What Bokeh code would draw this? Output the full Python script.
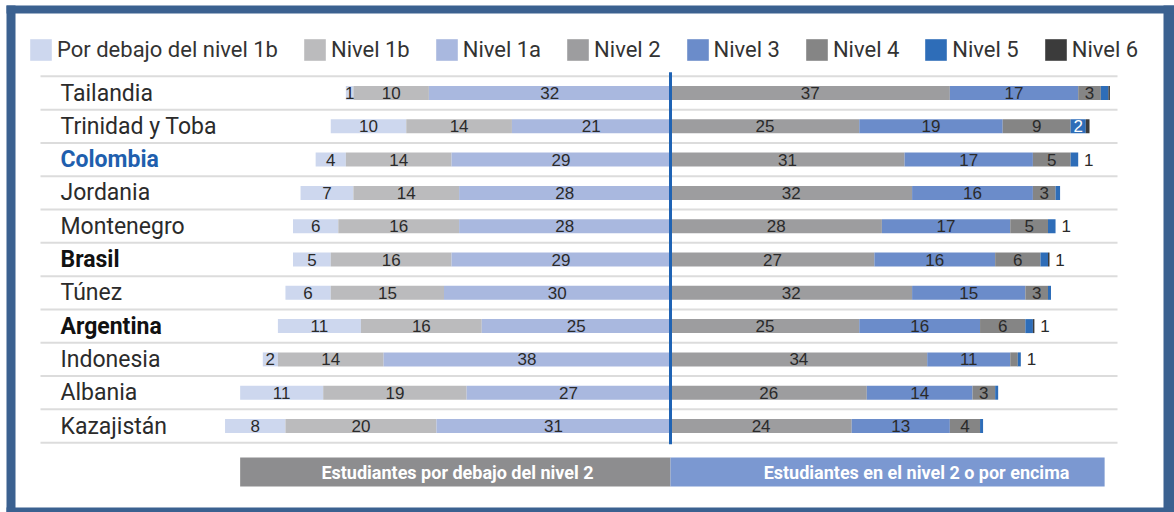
from bokeh.plotting import figure
from bokeh.models import ColumnDataSource, Range1d, Legend, LegendItem, BoxAnnotation
from bokeh.core.properties import value
from bokeh.embed import file_html
from bokeh.resources import INLINE

# ---------------- data ----------------
countries = ["Tailandia", "Trinidad y Toba", "Colombia", "Jordania", "Montenegro", "Brasil",
             "Túnez", "Argentina", "Indonesia", "Albania", "Kazajistán"]
country_style = ["normal", "normal", "bold", "normal", "normal", "bold",
                 "normal", "bold", "normal", "normal", "normal"]
country_color = ["#2b2b2b", "#2b2b2b", "#1f5fae", "#2b2b2b", "#2b2b2b", "#111111",
                 "#2b2b2b", "#111111", "#2b2b2b", "#2b2b2b", "#2b2b2b"]

below_1b = [1, 10, 4, 7, 6, 5, 6, 11, 2, 11, 8]
nivel_1b = [10, 14, 14, 14, 16, 16, 15, 16, 14, 19, 20]
nivel_1a = [32, 21, 29, 28, 28, 29, 30, 25, 38, 27, 31]
nivel_2 = [37, 25, 31, 32, 28, 27, 32, 25, 34, 26, 24]
nivel_3 = [17, 19, 17, 16, 17, 16, 15, 16, 11, 14, 13]
nivel_4 = [3, 9, 5, 3, 5, 6, 3, 6, 1, 3, 4]
nivel_5 = [1, 2, 1, 0.6, 1, 1, 0.4, 1, 0.4, 0.4, 0.4]
nivel_6 = [0.2, 0.5, 0, 0, 0, 0.2, 0, 0.2, 0, 0, 0]
outside_labels = ["", "", "1", "", "1", "1", "", "1", "1", "", ""]

series_names = ["Por debajo del nivel 1b", "Nivel 1b", "Nivel 1a", "Nivel 2",
                "Nivel 3", "Nivel 4", "Nivel 5", "Nivel 6"]
series_colors = ["#cdd7ee", "#bbbbbd", "#a9b8df", "#9d9d9f",
                 "#6b8cca", "#858585", "#2e6db8", "#3b3b3b"]

banner_texts = ["Estudiantes por debajo del nivel 2", "Estudiantes en el nivel 2 o por encima"]
banner_extent = [57, 57.5]

# ---------------- layout constants ----------------
W, H = 1174, 512
SCALE = 7.55        # px per percentage point
ZERO_PX = 670       # x of the 0 line
ROW_PX = 33.3       # px per row
ROW0_PX = 92.5      # y of first row

x0 = -ZERO_PX / SCALE
x1 = (W - ZERO_PX) / SCALE
y_top = -ROW0_PX / ROW_PX
y_bot = (H - ROW0_PX) / ROW_PX


def px_x(px):
    return (px - ZERO_PX) / SCALE


def px_y(py):
    return (py - ROW0_PX) / ROW_PX


p = figure(width=W, height=H, output_backend="svg", toolbar_location=None,
           x_range=Range1d(x0, x1), y_range=Range1d(y_bot, y_top),
           min_border=0, x_axis_type=None, y_axis_type=None, title=None)
p.grid.visible = False
p.outline_line_color = None
p.background_fill_color = "white"
p.border_fill_color = "white"

n = len(countries)
ys = list(range(n))

# separator lines
sep_y = [i - 0.5 for i in range(n + 1)]
p.segment(x0=px_x(40), x1=px_x(1117), y0=sep_y, y1=sep_y,
          line_color="#dcdcdc", line_width=2)

# stacked segments
left_series = [below_1b, nivel_1b, nivel_1a]
right_series = [nivel_2, nivel_3, nivel_4, nivel_5, nivel_6]

segments = []
a = [-v for v in nivel_1a]
b = [a[i] - nivel_1b[i] for i in range(n)]
c = [b[i] - below_1b[i] for i in range(n)]
segments.append((c, b))
segments.append((b, a))
segments.append((a, [0] * n))
cum = [0] * n
for s in right_series:
    nxt = [cum[i] + s[i] for i in range(n)]
    segments.append((cum, nxt))
    cum = nxt

renderers = []
for k, (lft, rgt) in enumerate(segments):
    src = ColumnDataSource(dict(y=ys, left=lft, right=rgt))
    r = p.hbar(y="y", left="left", right="right", height=0.42, source=src,
               fill_color=series_colors[k], line_color=None)
    renderers.append(r)

# value labels
all_series = left_series + right_series
lx, ly, lt, lc = [], [], [], []
for k, s in enumerate(all_series):
    lft, rgt = segments[k]
    for i in range(n):
        v = s[i]
        if k <= 4 or (k == 5 and v >= 3) or (k == 6 and v >= 2):
            lx.append((lft[i] + rgt[i]) / 2)
            ly.append(i)
            lt.append(str(int(v)))
            lc.append("white" if k == 6 else "#2a2a2a")
for i in range(n):
    if outside_labels[i]:
        lx.append(cum[i] + 1.4)
        ly.append(i)
        lt.append(outside_labels[i])
        lc.append("#2a2a2a")
p.text(x=lx, y=ly, text=lt, text_color=lc, text_align="center", text_baseline="middle",
       text_font=value("Liberation Sans"), text_font_size="17px")

# zero line
p.segment(x0=0, x1=0, y0=-0.62, y1=n - 0.45, line_color="#1f63b4", line_width=3)

# country labels
csrc = ColumnDataSource(dict(y=ys, text=countries, st=country_style, col=country_color))
p.text(x=px_x(60), y="y", text="text", source=csrc, text_color="col",
       text_font_style="st", text_font=value("Roboto"),
       text_font_size="23px", text_baseline="middle", text_align="left")

# bottom banners
ban_y = px_y(471.5)
ban_h = 29 / ROW_PX
p.quad(left=[-banner_extent[0], 0], right=[0, banner_extent[1]],
       bottom=[ban_y + ban_h / 2] * 2, top=[ban_y - ban_h / 2] * 2,
       fill_color=["#8d8d8f", "#7b98d1"], line_color=None)
p.text(x=[px_x(457), px_x(916)], y=[ban_y] * 2, text=banner_texts, text_color="white",
       text_align="center", text_baseline="middle", text_font_style="bold",
       text_font=value("Roboto"), text_font_size="18px")

# legend
legend = Legend(items=[LegendItem(label=series_names[k], renderers=[renderers[k]])
                       for k in range(8)],
                orientation="horizontal", location=(27, 449),
                glyph_width=27, glyph_height=27, label_standoff=3, spacing=23,
                padding=0, margin=0, border_line_color=None, background_fill_alpha=0,
                label_text_font="Roboto", label_text_font_size="22px",
                label_text_color="#333333")
p.add_layout(legend)

# frame border
BORDER = "#3b6190"
p.add_layout(BoxAnnotation(left=px_x(6), right=px_x(15), top=px_y(5), bottom=px_y(512),
                           fill_color=BORDER, fill_alpha=1, line_color=None))
p.add_layout(BoxAnnotation(left=px_x(1163), right=x1, top=px_y(5), bottom=px_y(512),
                           fill_color=BORDER, fill_alpha=1, line_color=None))
p.add_layout(BoxAnnotation(left=px_x(6), right=x1, top=px_y(5), bottom=px_y(13),
                           fill_color=BORDER, fill_alpha=1, line_color=None))
p.add_layout(BoxAnnotation(left=px_x(6), right=x1, top=px_y(507), bottom=y_bot,
                           fill_color=BORDER, fill_alpha=1, line_color=None))

open("out.html", "w").write(file_html(p, INLINE))
